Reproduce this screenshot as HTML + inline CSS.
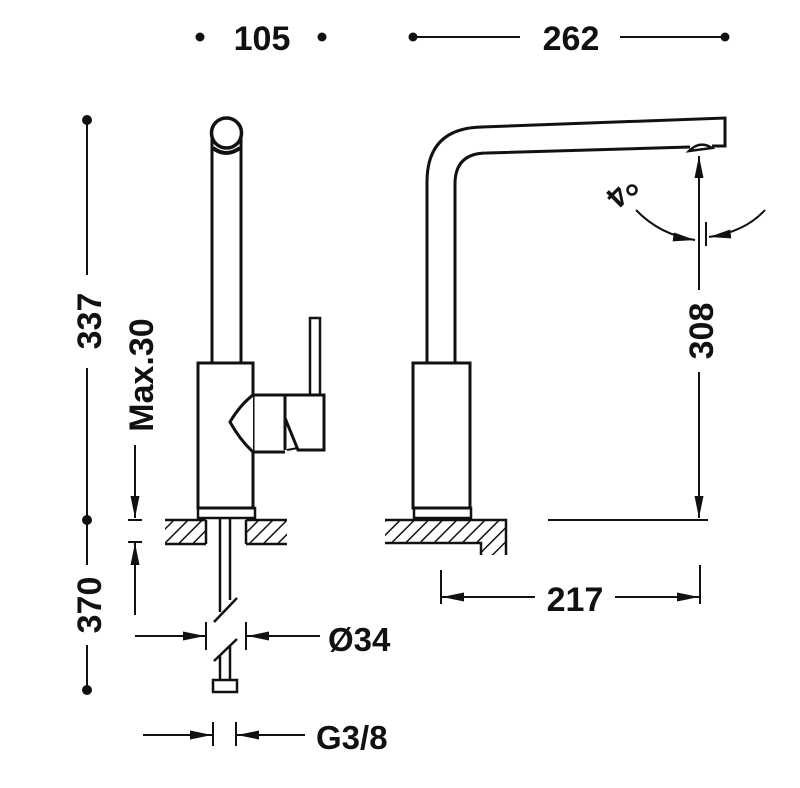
<!DOCTYPE html>
<html><head><meta charset="utf-8"><style>
html,body{margin:0;padding:0;background:#fff;width:800px;height:788px;overflow:hidden}
svg text{font-family:"Liberation Sans",Arial,sans-serif;font-weight:bold;fill:#111}
</style></head><body>
<svg width="800" height="788" viewBox="0 0 800 788" xmlns="http://www.w3.org/2000/svg">
<defs>
<pattern id="h" patternUnits="userSpaceOnUse" width="10" height="10" patternTransform="rotate(45)">
<line x1="0" y1="0" x2="0" y2="10" stroke="#111" stroke-width="3"/>
</pattern>
<marker id="a" viewBox="0 0 22 9" refX="22" refY="4.5" markerWidth="22" markerHeight="9" markerUnits="userSpaceOnUse" orient="auto">
<path d="M0,0 L22,4.5 L0,9 z" fill="#111"/>
</marker>
</defs>
<g stroke="#111" fill="none" stroke-width="3">
<line x1="212" y1="135" x2="212" y2="363"/>
<line x1="241" y1="135" x2="241" y2="363"/>
<circle cx="226.5" cy="133" r="15" fill="#fff" stroke-width="3.5"/>
<path d="M213,148 Q226,158 240,148" stroke-width="4"/>
<rect x="198" y="363" width="55" height="145"/>
<rect x="198" y="508" width="57" height="10" stroke-width="2.5"/>
<rect x="310" y="318" width="10" height="78" stroke-width="2.5"/>
<path d="M253,395 Q240,405 230,422 Q240,440 253,452" fill="#fff"/>
<line x1="253" y1="395" x2="285" y2="395"/>
<line x1="253" y1="452" x2="285" y2="452"/>
<path d="M285,395 L324,395 L324,450 L298,450 L285,418 Z" fill="#fff"/>
<line x1="285" y1="395" x2="285" y2="450"/>
<line x1="287" y1="450" x2="298" y2="448" stroke-width="2"/>
<line x1="220" y1="518" x2="220" y2="612" stroke-width="2.5"/>
<line x1="230" y1="518" x2="230" y2="600" stroke-width="2.5"/>
<line x1="214" y1="622" x2="237" y2="598" stroke-width="2.5"/>
<line x1="214" y1="661" x2="237" y2="639" stroke-width="2.5"/>
<line x1="220" y1="655" x2="220" y2="680" stroke-width="2.5"/>
<line x1="230" y1="646" x2="230" y2="680" stroke-width="2.5"/>
<rect x="213" y="680" width="24" height="12" stroke-width="2.5"/>
</g>
<rect x="165" y="520" width="41" height="24" fill="url(#h)"/>
<rect x="246" y="520" width="41" height="24" fill="url(#h)"/>
<g stroke="#111" stroke-width="2.5" fill="none">
<line x1="165" y1="520" x2="206" y2="520"/><line x1="165" y1="544" x2="206" y2="544"/><line x1="206" y1="520" x2="206" y2="544"/>
<line x1="246" y1="520" x2="287" y2="520"/><line x1="246" y1="544" x2="287" y2="544"/><line x1="246" y1="520" x2="246" y2="544"/>
</g>
<path d="M385,520 L506,520 L506,555 L481,555 L481,543 L385,543 Z" fill="url(#h)"/>
<path d="M385,520 L506,520 L506,555 M481,555 L481,543 L385,543" stroke="#111" stroke-width="2.5" fill="none"/>
<g stroke="#111" fill="none" stroke-width="3">
<path d="M427,363 L427,182 Q427,128 482,127 L725,118 L725,146 L712,146"/>
<path d="M455,363 L455,184 Q455,153 487,153 L690,147"/>
<path d="M689,151 Q700,140 712,148 Z" stroke-width="2.5"/>
<rect x="413" y="363" width="57" height="145"/>
<rect x="414" y="508" width="57" height="10" stroke-width="2.5"/>
</g>
<g stroke="#111" stroke-width="2" fill="none">
<line x1="699" y1="290" x2="699" y2="156" marker-end="url(#a)"/>
<line x1="699" y1="372" x2="699" y2="518" marker-end="url(#a)"/>
<line x1="548" y1="520" x2="708" y2="520"/>
<path d="M636,210 Q660,235 695,240" marker-end="url(#a)"/>
<path d="M765,210 Q745,232 709,237" marker-end="url(#a)"/>
<line x1="706" y1="222" x2="706" y2="246"/>
<line x1="413" y1="37" x2="520" y2="37"/><line x1="620" y1="37" x2="725" y2="37"/>
<line x1="87" y1="120" x2="87" y2="275"/><line x1="87" y1="368" x2="87" y2="565"/><line x1="87" y1="645" x2="87" y2="690"/>
<line x1="135" y1="445" x2="135" y2="518" marker-end="url(#a)"/>
<line x1="128" y1="520" x2="142" y2="520"/>
<line x1="128" y1="542" x2="142" y2="542"/>
<line x1="135" y1="615" x2="135" y2="543" marker-end="url(#a)"/>
<line x1="135" y1="636" x2="205" y2="636" marker-end="url(#a)"/>
<line x1="320" y1="636" x2="247" y2="636" marker-end="url(#a)"/>
<line x1="206" y1="622" x2="206" y2="650"/><line x1="246" y1="622" x2="246" y2="650"/>
<line x1="143" y1="735" x2="212" y2="735" marker-end="url(#a)"/>
<line x1="305" y1="735" x2="237" y2="735" marker-end="url(#a)"/>
<line x1="213" y1="722" x2="213" y2="746"/><line x1="236" y1="722" x2="236" y2="746"/>
<line x1="441" y1="570" x2="441" y2="604"/><line x1="700" y1="565" x2="700" y2="604"/>
<line x1="535" y1="597" x2="442" y2="597" marker-end="url(#a)"/>
<line x1="615" y1="597" x2="699" y2="597" marker-end="url(#a)"/>
</g>
<g fill="#111">
<circle cx="200" cy="37" r="4.5"/><circle cx="322" cy="37" r="4.5"/>
<circle cx="413" cy="37" r="4.5"/><circle cx="725" cy="37" r="4.5"/>
<circle cx="87" cy="120" r="5"/><circle cx="87" cy="520" r="5"/><circle cx="87" cy="690" r="5"/>
</g>
<text x="262" y="50" font-size="34" text-anchor="middle">105</text>
<text x="571" y="50" font-size="34" text-anchor="middle">262</text>
<text x="575" y="611" font-size="34" text-anchor="middle">217</text>
<text x="328" y="651" font-size="33">Ø34</text>
<text x="316" y="749" font-size="33">G3/8</text>
<text transform="translate(101,321) rotate(-90)" font-size="34" text-anchor="middle">337</text>
<text transform="translate(101,605) rotate(-90)" font-size="34" text-anchor="middle">370</text>
<text transform="translate(153,375) rotate(-90)" font-size="34" text-anchor="middle">Max.30</text>
<text transform="translate(713,331) rotate(-90)" font-size="34" text-anchor="middle">308</text>
<text transform="translate(610,189) rotate(135)" font-size="30" text-anchor="middle">4</text>
<circle cx="632" cy="190" r="4.5" fill="none" stroke="#111" stroke-width="2.5"/>
</svg>
</body></html>
